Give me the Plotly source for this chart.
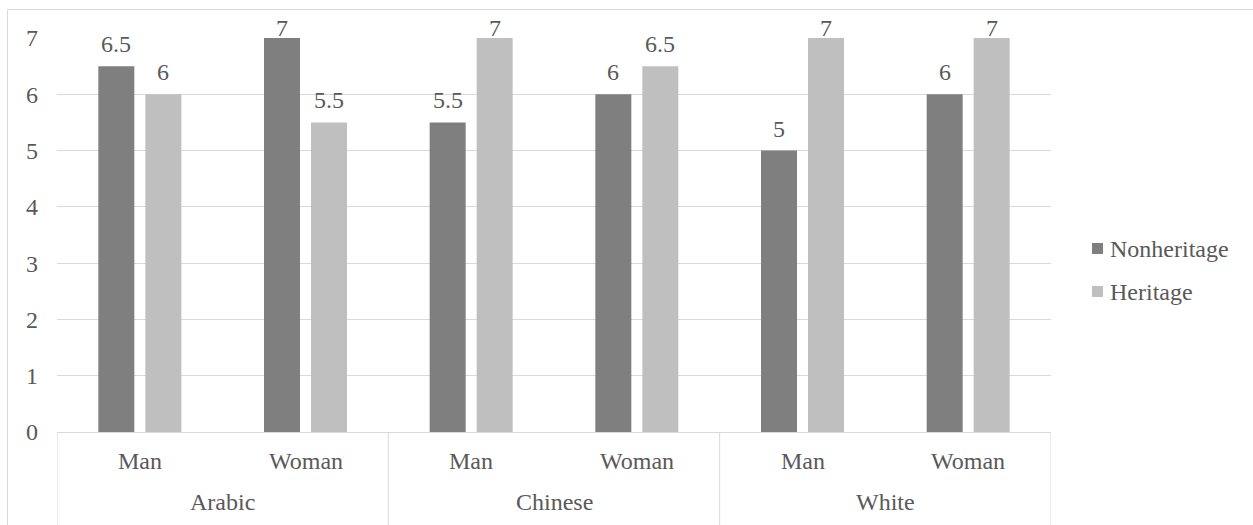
import plotly.graph_objects as go

# Chart data
groups = ["Arabic", "Chinese", "White"]
genders = ["Man", "Woman"]
nonheritage = [6.5, 7, 5.5, 6, 5, 6]
heritage = [6, 5.5, 7, 6.5, 7, 7]
y_ticks = [0, 1, 2, 3, 4, 5, 6, 7]

# Styling
DARK = "#7F7F7F"
LIGHT = "#BFBFBF"
TEXT = "#595959"
GRID = "#D9D9D9"
FONT = "Liberation Serif"
FS = 24

W, H = 1253, 525
M_L, M_R, M_T, M_B = 57, 202, 38, 93
PLOT_W = W - M_L - M_R
PLOT_H = H - M_T - M_B
BARGAP = 0.4326
BARGROUPGAP = 0.234
Y_MAX = 7

# value labels sit LABEL_GAP px above the bar; their box bottom never rises above LABEL_TOP_LIMIT
LABEL_GAP = 7
LABEL_TOP_LIMIT = 43

categories = [f"{g}-{s}" for g in groups for s in genders]
n_cat = len(categories)
cat_px = PLOT_W / n_cat
bar_offset_px = cat_px * (1 - BARGAP) / 4


def px_x(px):
    return (px - M_L) / PLOT_W


def px_y(py):
    return (H - M_B - py) / PLOT_H


def value_to_px(v):
    return M_T + PLOT_H * (1 - v / Y_MAX)


fig = go.Figure()
fig.add_bar(x=categories, y=nonheritage, name="Nonheritage",
            marker=dict(color=DARK, line=dict(width=0)))
fig.add_bar(x=categories, y=heritage, name="Heritage",
            marker=dict(color=LIGHT, line=dict(width=0)))

annotations = []
# value labels above each bar
for series, shift in ((nonheritage, -bar_offset_px), (heritage, bar_offset_px)):
    for cat, v in zip(categories, series):
        top = value_to_px(v)
        yshift = min(LABEL_GAP, top - LABEL_TOP_LIMIT)
        annotations.append(dict(
            x=cat, y=v, xref="x", yref="y", text=f"{v:g}", showarrow=False,
            xanchor="center", yanchor="bottom", xshift=shift, yshift=yshift,
            font=dict(family=FONT, size=FS, color=TEXT)))

# two-level category labels
for cat, (g, s) in zip(categories, [(g, s) for g in groups for s in genders]):
    annotations.append(dict(
        x=cat, y=px_y(461), xref="x", yref="paper", text=s, showarrow=False,
        xanchor="center", yanchor="middle",
        font=dict(family=FONT, size=FS, color=TEXT)))
for i, g in enumerate(groups):
    annotations.append(dict(
        x=i * len(genders) + (len(genders) - 1) / 2, y=px_y(502),
        xref="x", yref="paper", text=g, showarrow=False,
        xanchor="center", yanchor="middle",
        font=dict(family=FONT, size=FS, color=TEXT)))

# legend entries
legend_items = [("Nonheritage", DARK, 248.5), ("Heritage", LIGHT, 291.5)]
shapes = []
for name, color, cy in legend_items:
    shapes.append(dict(type="rect", xref="paper", yref="paper",
                       x0=px_x(1092), x1=px_x(1103),
                       y0=px_y(cy - 5.5), y1=px_y(cy + 5.5),
                       fillcolor=color, line=dict(width=0)))
    annotations.append(dict(
        x=px_x(1108), y=px_y(cy), xref="paper", yref="paper", text=name,
        showarrow=False, xanchor="left", yanchor="middle",
        font=dict(family=FONT, size=FS, color=TEXT)))

# group dividers below the axis
for i in range(len(groups) + 1):
    xb = i * len(genders) - 0.5
    shapes.append(dict(type="line", xref="x", yref="paper",
                       x0=xb, x1=xb, y0=0, y1=px_y(H + 5),
                       line=dict(color=GRID, width=1)))

# chart frame (top and left edges)
shapes.append(dict(type="line", xref="paper", yref="paper",
                   x0=px_x(7.5), x1=px_x(W + 2), y0=px_y(9.5), y1=px_y(9.5),
                   line=dict(color=GRID, width=1)))
shapes.append(dict(type="line", xref="paper", yref="paper",
                   x0=px_x(7.5), x1=px_x(7.5), y0=px_y(9.5), y1=px_y(H + 5),
                   line=dict(color=GRID, width=1)))

fig.update_layout(
    width=W, height=H,
    margin=dict(l=M_L, r=M_R, t=M_T, b=M_B, pad=0),
    paper_bgcolor="white", plot_bgcolor="white",
    barmode="group", bargap=BARGAP, bargroupgap=BARGROUPGAP,
    showlegend=False,
    font=dict(family=FONT, size=FS, color=TEXT),
    annotations=annotations, shapes=shapes,
    xaxis=dict(type="category", categoryorder="array", categoryarray=categories,
               showticklabels=False, showgrid=False, zeroline=False,
               showline=True, linecolor=GRID, linewidth=1, ticks="",
               range=[-0.5, n_cat - 0.5]),
    yaxis=dict(range=[0, Y_MAX], tickvals=y_ticks, showgrid=True, gridcolor=GRID,
               gridwidth=1, zeroline=False, showline=False, ticks="",
               ticklabelstandoff=18,
               tickfont=dict(family=FONT, size=FS, color=TEXT)),
)

fig.write_html("out.html")
